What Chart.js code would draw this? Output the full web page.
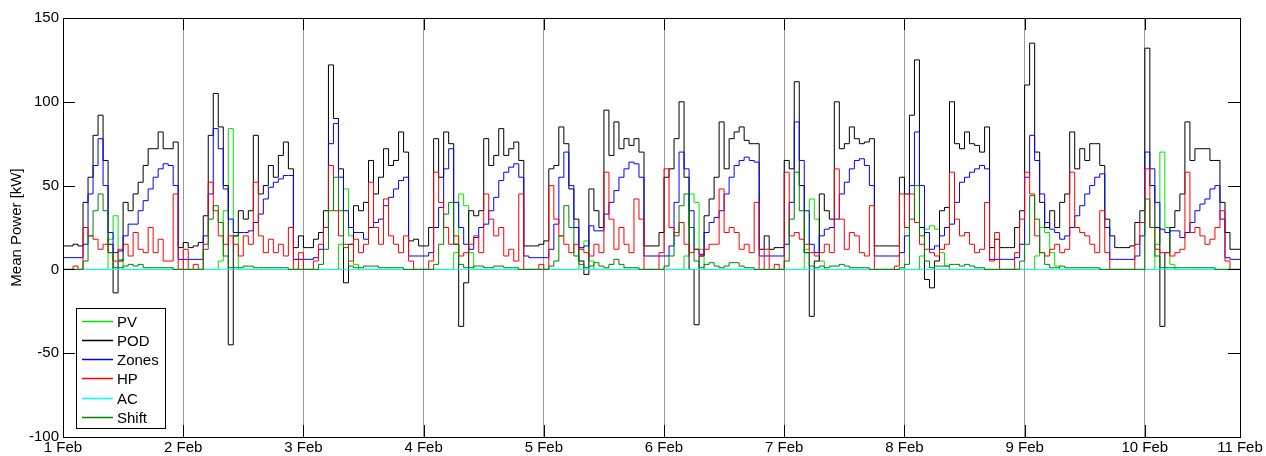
<!DOCTYPE html>
<html>
<head>
<meta charset="utf-8">
<script src="https://cdn.jsdelivr.net/npm/chart.js@4.4.1/dist/chart.umd.min.js"></script>
<style>
html,body{margin:0;padding:0;background:#fff}
#wrap{width:1266px;height:456px;position:relative}
</style>
</head>
<body>
<div id="wrap"><canvas id="chart" width="1266" height="456"></canvas></div>
<script>
// hourly means, one row per day (1 Feb .. 10 Feb, last day stops at ~19:00)
const dayTicks=[0,24,48,72,96,120,144,168,192,216,235];
const dayLabels=['1 Feb','2 Feb','3 Feb','4 Feb','5 Feb','6 Feb','7 Feb','8 Feb','9 Feb','10 Feb','11 Feb'];
const yTicks=[-100,-50,0,50,100,150];

const pv=[
0,0,0,0,0,0,0,0,0,18,32,6,0,0,0,0,0,0,0,0,0,0,0,0,
0,0,0,0,0,0,0,5,35,84,20,0,0,0,0,0,0,0,0,0,0,0,0,0,
0,0,0,0,0,0,0,15,48,20,3,0,0,0,0,0,0,0,0,0,0,0,0,0,
0,0,0,0,0,0,10,45,38,10,0,0,0,0,0,0,0,0,0,0,0,0,0,0,
0,0,0,0,0,0,0,12,17,5,0,0,0,0,0,0,0,0,0,0,0,0,0,0,
0,0,0,0,8,45,40,12,0,0,0,0,0,0,0,0,0,0,0,0,0,0,0,0,
0,0,0,0,12,42,30,5,0,0,0,0,0,0,0,0,0,0,0,0,0,0,0,0,
0,0,0,8,24,26,24,10,2,0,0,0,0,0,0,0,0,0,0,0,0,0,0,0,
0,0,8,25,22,10,2,0,0,0,0,0,0,0,0,0,0,0,0,0,0,0,0,0,
0,0,15,70,25,3,0,0,0,0,0,0,0,0,0,0,0,0,0,0];

const pod=[
14,14,15,14,40,55,80,92,65,15,-14,5,40,35,45,52,62,72,72,82,72,72,76,13,
16,13,14,16,32,80,105,85,50,-45,20,35,30,35,80,45,50,62,55,68,76,60,13,20,
13,13,18,22,35,122,90,60,-8,15,38,35,40,65,45,55,72,62,65,82,70,17,18,14,
14,25,78,55,82,75,15,-34,-8,35,32,35,78,62,68,84,68,72,76,65,14,14,14,15,
17,60,62,85,75,48,30,5,-3,48,35,25,95,68,88,72,78,74,78,70,14,14,14,22,
55,60,78,100,55,0,-33,8,32,42,55,88,60,78,82,85,77,75,75,12,20,12,13,13,
65,60,112,50,10,-28,5,45,35,30,100,72,75,85,78,75,76,78,14,14,14,14,14,55,
45,92,125,25,-6,-11,5,35,37,100,75,72,82,75,74,70,85,13,18,13,13,13,25,35,
110,135,70,40,25,35,25,40,45,82,60,72,65,75,75,62,30,20,13,13,13,14,28,35,
132,50,25,-34,10,25,35,45,88,65,72,72,72,65,65,40,22,12,12,12];

const zones=[
7,7,7,7,15,45,62,78,50,22,10,11,20,27,27,35,41,48,55,60,63,62,50,6,
6,6,6,6,20,45,84,72,48,30,22,22,22,23,28,33,42,49,52,54,56,56,6,6,
6,6,7,12,25,75,87,55,35,25,22,22,18,25,28,30,38,43,48,53,55,8,8,8,
8,10,25,37,60,72,40,25,15,12,19,25,27,35,43,53,58,61,63,55,8,7,7,7,
7,12,27,55,70,50,25,13,14,26,23,23,33,40,47,55,60,64,63,55,8,8,8,8,
8,14,40,70,60,35,12,9,22,28,31,35,45,55,62,65,67,65,64,8,8,8,8,8,
15,40,88,65,35,15,10,20,24,25,30,45,52,60,65,66,62,50,8,8,8,8,8,10,
20,50,82,50,22,12,14,20,25,27,40,52,55,58,60,62,60,6,6,6,6,6,7,15,
55,80,65,45,28,24,22,18,20,25,32,38,45,50,55,57,25,6,6,6,6,6,8,20,
70,60,40,24,22,23,23,19,22,28,35,39,42,48,50,30,7,6,6,6];

const hp=[
0,0,2,0,25,20,18,12,15,10,5,12,15,8,22,12,10,25,10,18,5,5,45,0,
12,0,3,0,15,52,35,20,15,20,15,8,20,15,52,20,10,18,10,15,8,25,0,10,
0,0,5,15,25,62,35,20,15,5,18,10,15,52,25,15,42,20,15,10,20,5,0,0,
0,5,58,40,25,15,20,8,10,15,20,10,45,30,20,25,8,12,5,45,0,0,0,3,
0,50,30,20,15,10,15,12,10,8,15,10,58,30,12,25,15,10,42,30,0,0,0,10,
60,25,20,28,15,10,12,8,12,15,15,48,22,25,22,12,15,10,40,0,12,0,3,0,
58,20,22,18,15,10,8,10,15,10,60,30,12,22,20,10,8,38,0,0,0,0,2,45,
25,45,28,15,12,10,8,12,15,58,30,20,22,15,10,12,40,5,22,0,0,0,10,30,
58,45,20,10,8,12,15,10,12,58,25,22,20,15,10,35,10,0,0,0,0,0,15,28,
60,25,12,10,10,8,10,12,58,22,25,20,15,18,25,35,5,0,0,0];

const ac=[
0,0,0,0,0,0,0,0,0,0,0,0,0,0,0,0,0,0,0,0,0,0,0,0,
0,0,0,0,0,0,0,0,0,0,0,0,0,0,0,0,0,0,0,0,0,0,0,0,
0,0,0,0,0,0,0,0,0,0,0,0,0,0,0,0,0,0,0,0,0,0,0,0,
0,0,0,0,0,0,0,0,0,0,0,0,0,0,0,0,0,0,0,0,0,0,0,0,
0,0,0,0,0,0,0,0,0,0,0,0,0,0,0,0,0,0,0,0,0,0,0,0,
0,0,0,0,0,0,0,0,0,0,0,0,0,0,0,0,0,0,0,0,0,0,0,0,
0,0,0,0,0,0,0,0,0,0,0,0,0,0,0,0,0,0,0,0,0,0,0,0,
0,0,0,0,0,0,0,0,0,0,0,0,0,0,0,0,0,0,0,0,0,0,0,0,
0,0,0,0,0,0,0,0,0,0,0,0,0,0,0,0,0,0,0,0,0,0,0,0,
0,0,0,0,0,0,0,0,0,0,0,0,0,0,0,0,0,0,0,0];

const shift=[
0,0,0,0,5,20,35,45,35,10,1,1,2,3,2,3,1,1,1,1,1,1,0,0,
0,0,0,0,12,30,38,28,8,1,1,1,2,2,1,1,1,1,1,1,1,0,0,0,
0,0,0,3,12,35,55,35,13,2,1,1,2,2,2,1,1,1,1,1,0,0,0,0,
0,0,3,15,33,40,15,3,1,1,2,2,1,1,2,2,1,1,1,0,0,0,0,0,
0,2,5,20,38,25,8,3,1,2,4,2,1,3,6,3,1,1,1,0,0,0,0,0,
2,8,22,38,45,25,5,1,3,4,2,1,2,4,4,2,1,1,0,0,0,0,0,0,
5,30,58,35,10,2,1,2,1,2,2,3,2,1,1,1,1,0,0,0,0,0,0,1,
3,30,50,20,5,1,2,2,2,3,3,2,3,2,1,1,0,0,0,0,0,0,0,5,
15,44,30,10,3,1,1,2,1,1,1,1,1,1,1,0,0,0,0,0,0,0,0,0,
42,25,8,1,1,1,1,1,1,1,1,1,1,1,0,0,0,0,0,0];

const names=['PV','POD','Zones','HP','AC','Shift'];
const colors=['#00e600','#000000','#0000ff','#ff0000','#00ffff','#008000'];

const FONT='"Liberation Sans", Arial, sans-serif';
Chart.defaults.font.family=FONT;
Chart.defaults.font.size=15;
Chart.defaults.color='#000';

const pts=arr=>arr.map((v,i)=>({x:i,y:v}));
const line=(i,arr,order)=>({label:names[i],data:pts(arr),borderColor:colors[i],backgroundColor:colors[i],
  borderWidth:1,pointRadius:0,stepped:'before',fill:false,order});

// frame with inside ticks and boxed legend in the lower left
const frameLegend={
  id:'frameLegend',
  afterDraw(chart){
    const {ctx,chartArea:a,scales:{x,y}}=chart;
    ctx.save();
    ctx.strokeStyle='#000';ctx.lineWidth=1;
    ctx.beginPath();
    yTicks.forEach(v=>{const py=Math.round(y.getPixelForValue(v))+0.5;
      ctx.moveTo(a.left,py);ctx.lineTo(a.left+12,py);ctx.moveTo(a.right,py);ctx.lineTo(a.right-12,py);});
    dayTicks.forEach(v=>{const px=Math.round(x.getPixelForValue(v))+0.5;
      ctx.moveTo(px,a.bottom);ctx.lineTo(px,a.bottom-12);ctx.moveTo(px,a.top);ctx.lineTo(px,a.top+12);});
    ctx.stroke();
    ctx.strokeRect(Math.round(a.left)+0.5,Math.round(a.top)+0.5,Math.round(a.right-a.left),Math.round(a.bottom-a.top));
    const lx=Math.round(a.left)+13, ly=308, lw=89, lh=120;
    ctx.fillStyle='#fff';ctx.fillRect(lx,ly,lw,lh);
    ctx.strokeStyle='#000';ctx.strokeRect(lx+0.5,ly+0.5,lw,lh);
    ctx.font='15px '+FONT;ctx.textBaseline='middle';ctx.textAlign='left';
    names.forEach((n,i)=>{
      const cy=Math.round(ly+12.7+i*19.2)+0.5;
      ctx.strokeStyle=colors[i];ctx.lineWidth=1.5;
      ctx.beginPath();ctx.moveTo(lx+6,cy);ctx.lineTo(lx+37,cy);ctx.stroke();
      ctx.fillStyle='#000';ctx.fillText(n,lx+41,cy+1);
    });
    ctx.restore();
  }
};

new Chart(document.getElementById('chart'),{
  type:'line',
  data:{datasets:[
    line(0,pv,6),
    line(1,pod,5),
    line(2,zones,4),
    line(3,hp,3),
    line(4,ac,2),
    line(5,shift,1)
  ]},
  options:{
    responsive:false,animation:false,devicePixelRatio:1,
    layout:{padding:{left:0,right:26,top:18,bottom:0}},
    plugins:{legend:{display:false},tooltip:{enabled:false}},
    scales:{
      x:{type:'linear',min:0,max:235,
        afterBuildTicks:s=>{s.ticks=dayTicks.map(v=>({value:v}));},
        afterFit:s=>{s.height=19;},
        ticks:{autoSkip:false,maxRotation:0,padding:2,font:{size:15},callback:(v,i)=>dayLabels[i]},
        grid:{color:'#9a9a9a',lineWidth:1,drawTicks:false},
        border:{display:false}},
      y:{min:-100,max:150,
        afterBuildTicks:s=>{s.ticks=yTicks.map(v=>({value:v}));},
        afterFit:s=>{s.width=63;},
        ticks:{padding:4,font:{size:15}},
        grid:{display:false,drawTicks:false},
        border:{display:false},
        title:{display:true,text:'Mean Power [kW]',font:{size:15},padding:{top:8,bottom:0}}}
    }
  },
  plugins:[frameLegend]
});
</script>
</body>
</html>
